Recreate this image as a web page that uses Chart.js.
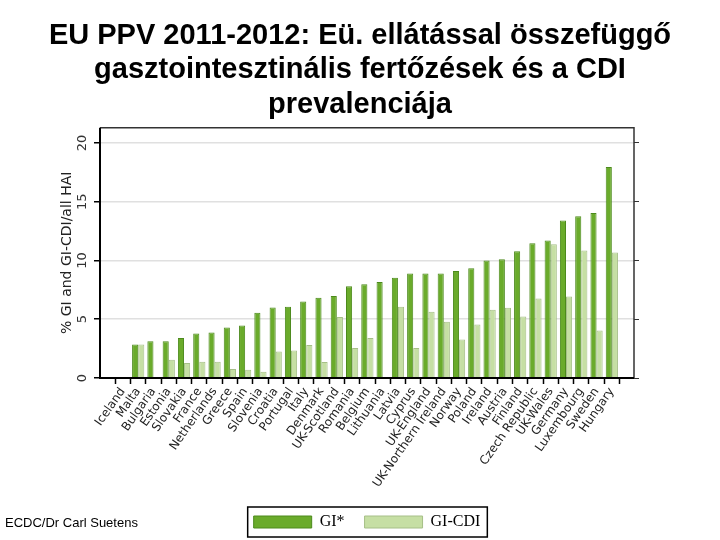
<!DOCTYPE html>
<html>
<head>
<meta charset="utf-8">
<script src="https://cdn.jsdelivr.net/npm/chart.js@4.4.1/dist/chart.umd.min.js"></script>
<style>
  html, body { margin: 0; padding: 0; background: #fff; }
  #wrap { position: relative; width: 720px; height: 540px; }
  #credit { position: absolute; left: 5px; top: 515px; font: 13px "Liberation Sans", Arial, sans-serif; color: #000; }
</style>
</head>
<body>
<div id="wrap">
  <canvas id="c" width="720" height="540"></canvas>
  <div id="credit">ECDC/Dr Carl Suetens</div>
</div>
<script>
const titleLines = ["EU PPV 2011-2012: Eü. ellátással összefüggő", "gasztointesztinális fertőzések és a CDI", "prevalenciája"];
const categories = ["Iceland", "Malta", "Bulgaria", "Estonia", "Slovakia", "France", "Netherlands", "Greece", "Spain", "Slovenia", "Croatia", "Portugal", "Italy", "Denmark", "UK-Scotland", "Romania", "Belgium", "Lithuania", "Latvia", "Cyprus", "UK-England", "UK-Northern Ireland", "Norway", "Poland", "Ireland", "Austria", "Finland", "Czech Republic", "UK-Wales", "Germany", "Luxembourg", "Sweden", "Hungary"];
const giValues = [0, 2.84, 3.13, 3.13, 3.41, 3.78, 3.87, 4.3, 4.47, 5.55, 6.0, 6.06, 6.5, 6.83, 6.97, 7.8, 7.97, 8.17, 8.53, 8.9, 8.9, 8.9, 9.1, 9.33, 10.0, 10.1, 10.78, 11.47, 11.69, 13.4, 13.77, 14.03, 17.95];
const cdiValues = [0, 2.84, 0, 1.56, 1.28, 1.39, 1.39, 0.77, 0.71, 0.54, 2.25, 2.33, 2.8, 1.37, 5.18, 2.56, 3.41, 0, 6.06, 2.56, 5.63, 4.78, 3.27, 4.55, 5.8, 5.97, 5.23, 6.77, 11.38, 6.94, 10.84, 4.04, 10.67];
const seriesNames = ["GI*", "GI-CDI"];
const yTicks = [0, 5, 10, 15, 20];
const yAxisTitle = "% GI and GI-CDI/all HAI";

const toPoints = arr => arr.map((v, i) => ({x: i, y: v}));

const framePlugin = {
  id: 'frame',
  afterLayout(chart) {
    const lg = chart.legend;
    if (lg) { lg.left += 7; lg.right += 7; }
  },
  afterDatasetsDraw(chart) {
    const {ctx, chartArea: a} = chart;
    ctx.save();
    ctx.strokeStyle = '#333';
    ctx.lineWidth = 1.5;
    ctx.beginPath();
    ctx.moveTo(a.left, a.top); ctx.lineTo(a.right, a.top); ctx.lineTo(a.right, a.bottom);
    ctx.stroke();
    ctx.strokeStyle = '#000';
    ctx.lineWidth = 2;
    ctx.beginPath();
    ctx.moveTo(a.left, a.top); ctx.lineTo(a.left, a.bottom); ctx.lineTo(a.right, a.bottom);
    ctx.stroke();
    ctx.restore();
  },
  afterDraw(chart) {
    const lg = chart.legend;
    if (!lg || !lg.legendHitBoxes || !lg.legendHitBoxes.length) return;
    const hb = lg.legendHitBoxes;
    const first = hb[0], last = hb[hb.length - 1];
    const ctx = chart.ctx;
    ctx.save();
    ctx.strokeStyle = '#000';
    ctx.lineWidth = 1.5;
    ctx.strokeRect(first.left - 6, first.top - 7, last.left + last.width + 7 - (first.left - 6), first.height + 14);
    ctx.restore();
  }
};

new Chart(document.getElementById('c'), {
  type: 'bar',
  data: {
    datasets: [
      { label: seriesNames[0], data: toPoints(giValues), backgroundColor: '#6aab2b', borderColor: '#4c8a1c', borderWidth: 1, borderSkipped: 'start' },
      { label: seriesNames[1], data: toPoints(cdiValues), backgroundColor: '#c6dfa4', borderColor: '#a6bf88', borderWidth: 1, borderSkipped: 'start' }
    ]
  },
  options: {
    responsive: false,
    animation: false,
    layout: { padding: { left: 6, right: 6, top: 0, bottom: 0 } },
    datasets: { bar: { categoryPercentage: 0.8, barPercentage: 1.0 } },
    plugins: {
      title: {
        display: true,
        text: titleLines,
        color: '#000',
        font: { family: '"Liberation Sans", Arial, sans-serif', size: 29, weight: 'bold', lineHeight: 1.18 },
        padding: { top: 19, bottom: 6 }
      },
      legend: {
        display: true,
        position: 'bottom',
        labels: {
          boxWidth: 58, boxHeight: 12, padding: 20,
          color: '#000',
          font: { family: '"Liberation Serif", "Times New Roman", serif', size: 16 }
        }
      },
      tooltip: { enabled: false }
    },
    scales: {
      x: {
        type: 'linear',
        position: 'bottom',
        min: -1.5, max: 33.45,
        offset: false,
        afterFit(s) { s.height = 116; },
        afterBuildTicks(s) { s.ticks = categories.map((_, i) => ({value: i})); },
        border: { display: false },
        grid: {
          drawOnChartArea: false, drawTicks: true, tickLength: 6,
          tickColor: '#000', tickWidth: 1.5,
          color: 'rgba(0,0,0,0)'
        },
        ticks: {
          autoSkip: false,
          minRotation: 55, maxRotation: 55, padding: 1,
          color: '#222',
          font: { family: '"DejaVu Sans", Verdana, sans-serif', size: 12 },
          callback: v => (categories[v] !== undefined) ? categories[v] : ''
        }
      },
      y: {
        position: 'left',
        min: 0, max: 21.3,
        afterFit(s) { s.width = 94; },
        border: { display: false },
        grid: { color: '#e0e0e0', lineWidth: 1.5, tickColor: '#000', tickLength: 6 },
        afterBuildTicks(s) { s.ticks = yTicks.map(v => ({value: v})); },
        ticks: {
          minRotation: 90, maxRotation: 90, crossAlign: 'center', padding: 3,
          color: '#333',
          font: { family: '"DejaVu Sans", Verdana, sans-serif', size: 13 }
        },
        title: {
          display: true, text: yAxisTitle, color: '#222',
          padding: { top: 53, bottom: 4 },
          font: { family: '"DejaVu Sans", Verdana, sans-serif', size: 14 }
        }
      },
      y2: {
        position: 'right',
        min: 0, max: 21.3,
        afterFit(s) { s.width = 80; },
        border: { display: false },
        afterBuildTicks(s) { s.ticks = yTicks.map(v => ({value: v})); },
        grid: { drawOnChartArea: false, tickColor: '#333', tickLength: 5 },
        ticks: { display: false }
      }
    }
  },
  plugins: [framePlugin]
});
</script>
</body>
</html>
